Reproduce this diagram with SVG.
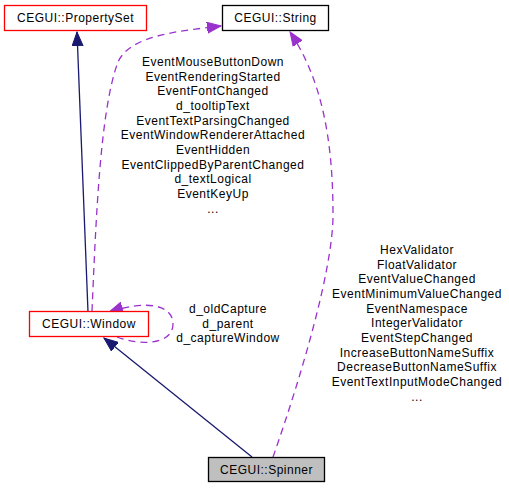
<svg xmlns="http://www.w3.org/2000/svg" width="509" height="488" viewBox="0 0 509 488">
<style>
text{font-family:"Liberation Sans",Arial,sans-serif;font-size:12px;letter-spacing:0.5px;fill:#000;text-anchor:middle}
.box{stroke-width:1.3}
.inh{fill:none;stroke:#191970;stroke-width:1.3}
.use{fill:none;stroke:#9a32cd;stroke-width:1.3;stroke-dasharray:7,5}
</style>
<defs>
<marker id="an" markerUnits="userSpaceOnUse" markerWidth="16" markerHeight="12" refX="14" refY="6" orient="auto"><path d="M0,0.5 L14,6 L0,11.5 Z" fill="#191970" stroke="#191970"/></marker>
<marker id="ap" markerUnits="userSpaceOnUse" markerWidth="16" markerHeight="12" refX="14" refY="6" orient="auto"><path d="M0,0.5 L14,6 L0,11.5 Z" fill="#9a32cd" stroke="#9a32cd"/></marker>
</defs>
<rect width="509" height="488" fill="#fff"/>
<g id="connectors">
<path class="inh" d="M88,312 L77,32" marker-end="url(#an)"/>
<path class="inh" d="M252,457 L104,338" marker-end="url(#an)"/>
<path class="use" d="M92,311 C96,220 100,110 118,62 C130,35 180,31 221,26" marker-end="url(#ap)"/>
<path class="use" d="M273,457 C300,380 333,270 333,215 C333,140 322,80 290,32" marker-end="url(#ap)"/>
<path class="use" d="M117,337 C140,346 173,345 173,324 C173,304 145,300 109,312" marker-end="url(#ap)"/>
<g id="labels">
<text x="213" y="66">EventMouseButtonDown</text>
<text x="213" y="80.7">EventRenderingStarted</text>
<text x="213" y="95.3">EventFontChanged</text>
<text x="213" y="110">d_tooltipText</text>
<text x="213" y="124.7">EventTextParsingChanged</text>
<text x="213" y="139.3">EventWindowRendererAttached</text>
<text x="213" y="154">EventHidden</text>
<text x="213" y="168.7">EventClippedByParentChanged</text>
<text x="213" y="183.3">d_textLogical</text>
<text x="213" y="198">EventKeyUp</text>
<text x="213" y="212.7">...</text>
<text x="228" y="313">d_oldCapture</text>
<text x="228" y="327.5">d_parent</text>
<text x="228" y="342">d_captureWindow</text>
<text x="417" y="254">HexValidator</text>
<text x="417" y="268.7">FloatValidator</text>
<text x="417" y="283.3">EventValueChanged</text>
<text x="417" y="298">EventMinimumValueChanged</text>
<text x="417" y="312.7">EventNamespace</text>
<text x="417" y="327.3">IntegerValidator</text>
<text x="417" y="342">EventStepChanged</text>
<text x="417" y="356.7">IncreaseButtonNameSuffix</text>
<text x="417" y="371.3">DecreaseButtonNameSuffix</text>
<text x="417" y="386">EventTextInputModeChanged</text>
<text x="417" y="400.7">...</text>
</g>
</g>
<g id="PropertySet">
<rect class="box" x="4.5" y="5.5" width="142" height="25" fill="#fff" stroke="#ff0000"/>
<text x="75.5" y="22">CEGUI::PropertySet</text>
</g>
<g id="String">
<rect class="box" x="222.5" y="5.5" width="106" height="25" fill="#fff" stroke="#000"/>
<text x="275.5" y="22">CEGUI::String</text>
</g>
<g id="Window">
<rect class="box" x="29.5" y="311.5" width="119" height="25" fill="#fff" stroke="#ff0000"/>
<text x="89" y="328">CEGUI::Window</text>
</g>
<g id="Spinner">
<rect class="box" x="208.5" y="457.5" width="116" height="24" fill="#bfbfbf" stroke="#000"/>
<text x="266.5" y="474">CEGUI::Spinner</text>
</g>
</svg>
